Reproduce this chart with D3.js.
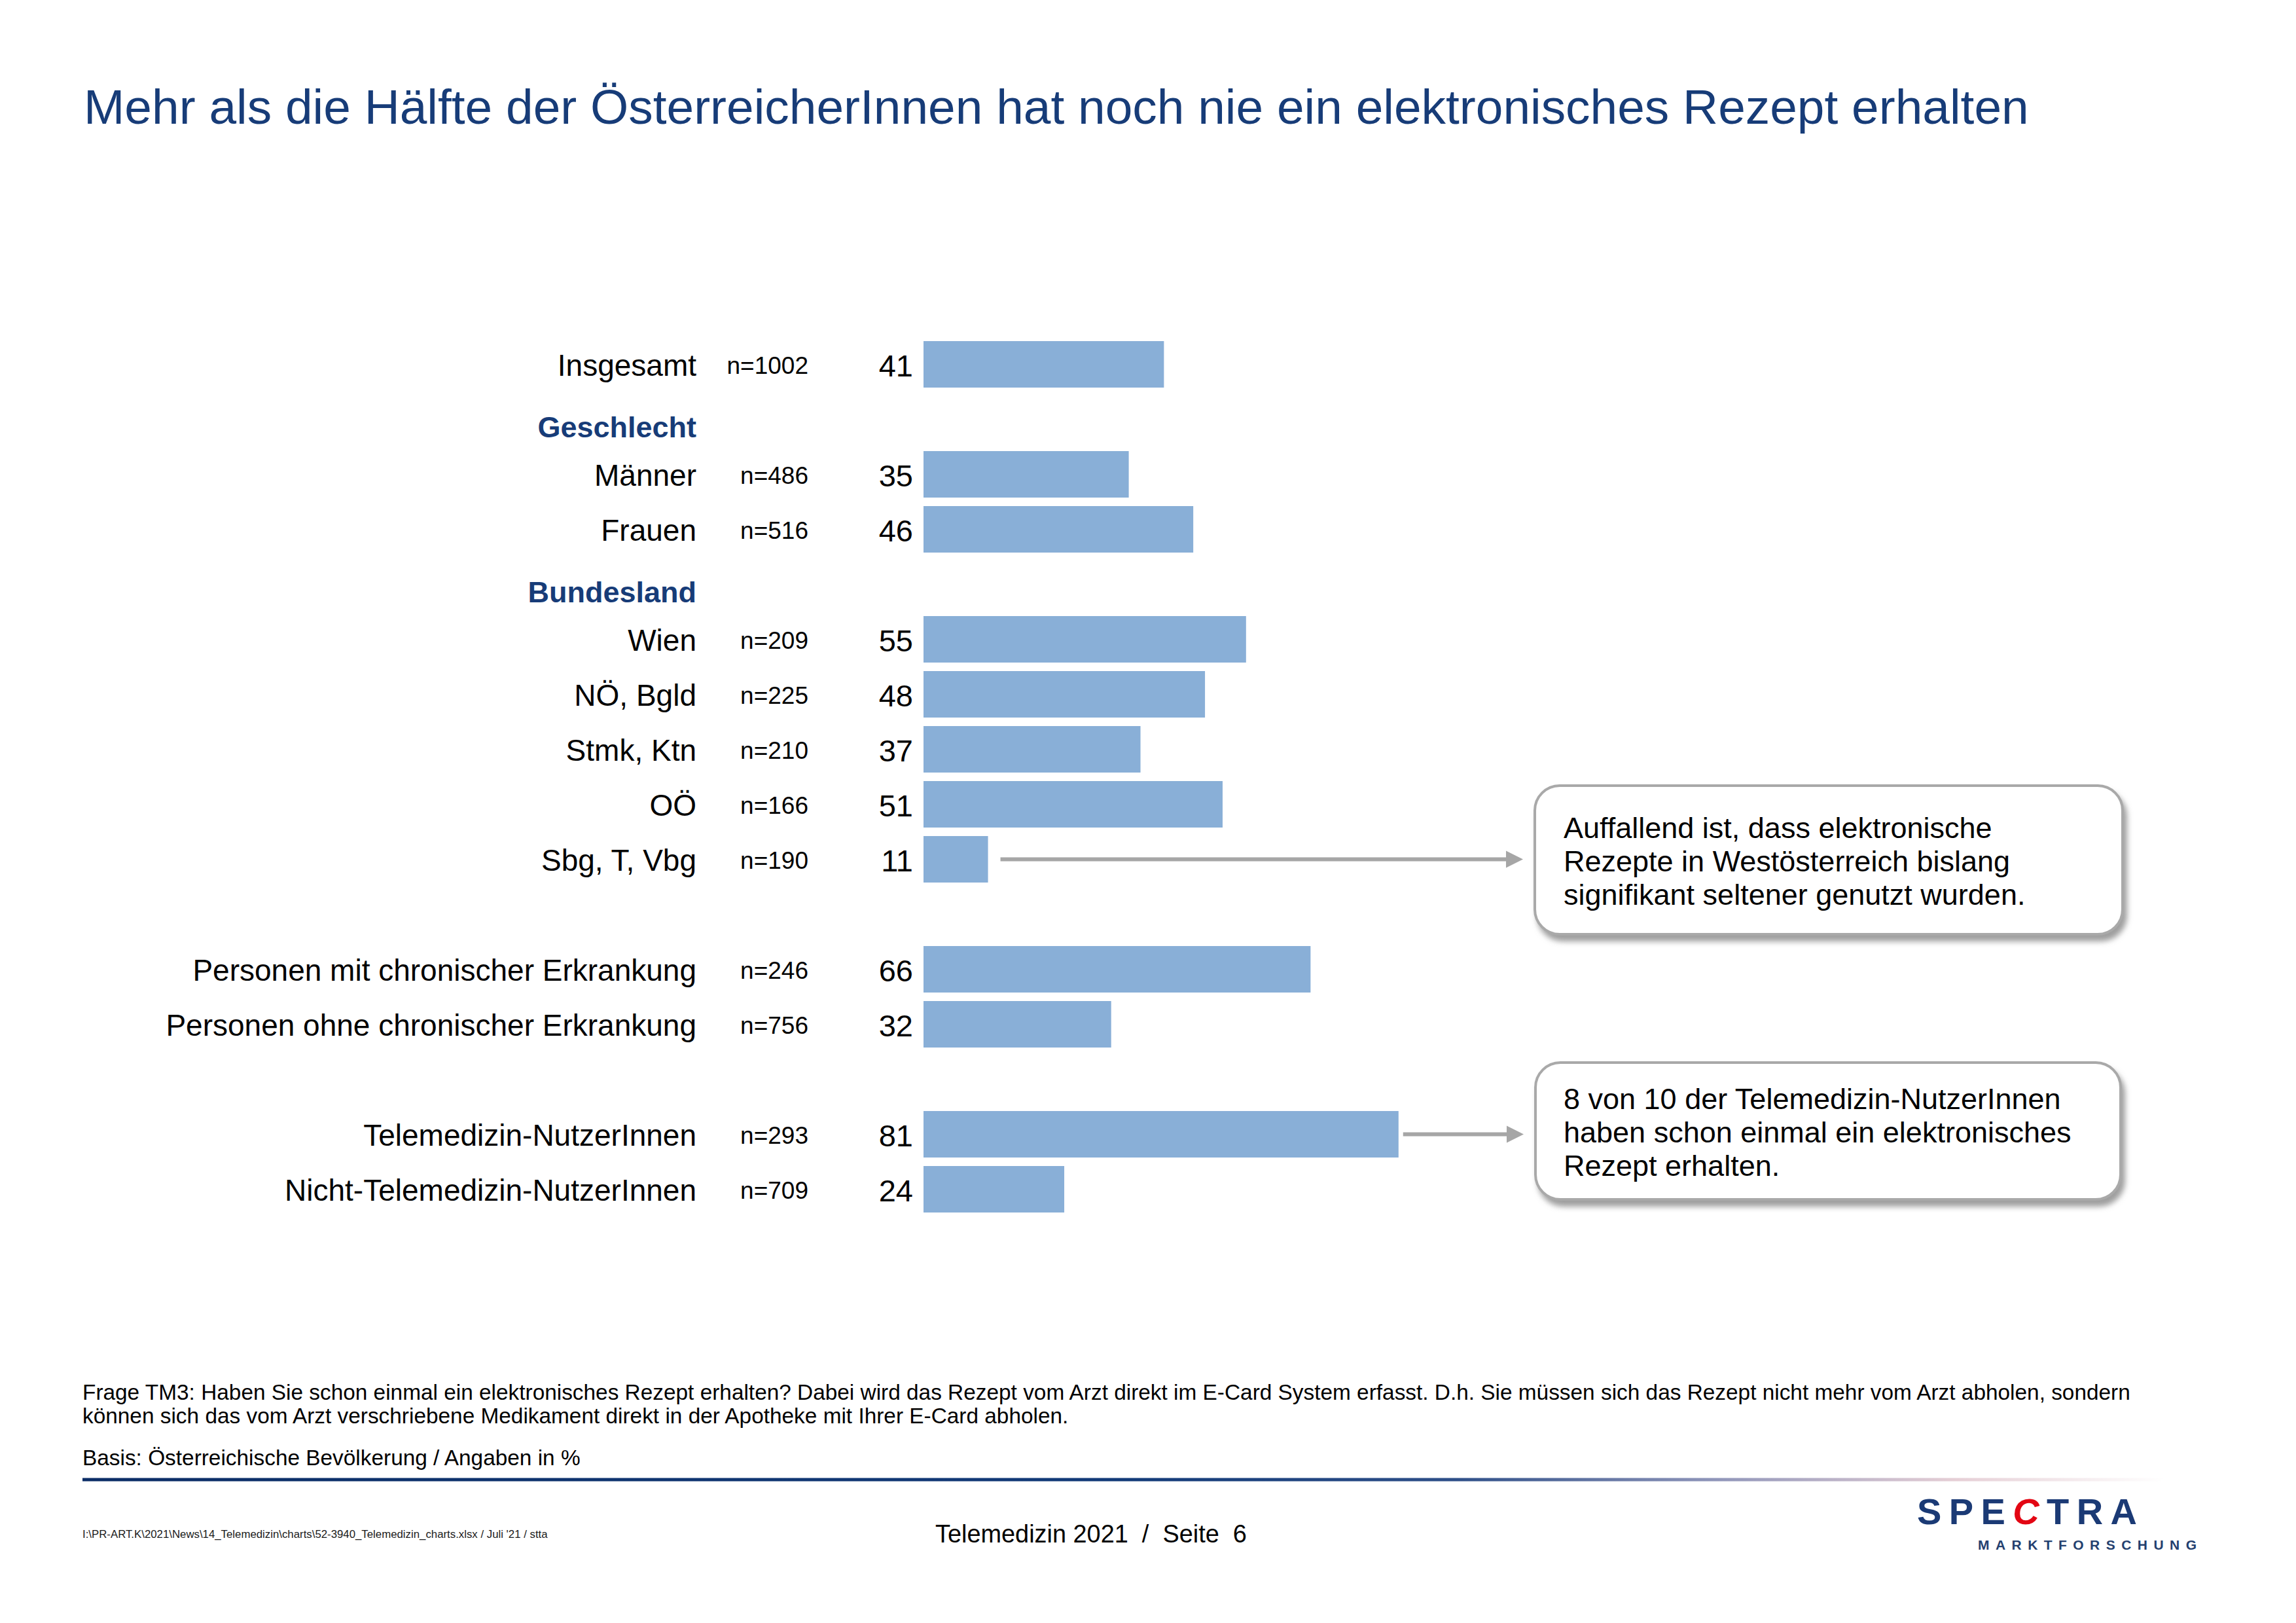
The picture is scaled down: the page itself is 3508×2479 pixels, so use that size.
<!DOCTYPE html>
<html>
<head>
<meta charset="utf-8">
<script src="https://cdn.jsdelivr.net/npm/d3@7"></script>
<style>
  html, body { margin: 0; padding: 0; background: #ffffff; }
  svg { display: block; }
  text { font-family: "Liberation Sans", Arial, Helvetica, sans-serif; }
</style>
</head>
<body>
<script>
// ---------------- DATA ----------------
const titleText = "Mehr als die Hälfte der ÖsterreicherInnen hat noch nie ein elektronisches Rezept erhalten";

const categories = [
  "Insgesamt", "Männer", "Frauen",
  "Wien", "NÖ, Bgld", "Stmk, Ktn", "OÖ", "Sbg, T, Vbg",
  "Personen mit chronischer Erkrankung", "Personen ohne chronischer Erkrankung",
  "Telemedizin-NutzerInnen", "Nicht-Telemedizin-NutzerInnen"
];
const sampleSizes = [
  "n=1002", "n=486", "n=516",
  "n=209", "n=225", "n=210", "n=166", "n=190",
  "n=246", "n=756",
  "n=293", "n=709"
];
const values = [41, 35, 46, 55, 48, 37, 51, 11, 66, 32, 81, 24];

const groupHeaders = ["Geschlecht", "Bundesland"];

// row order (slots) – headers and empty spacer rows included
const rowOrder = [
  "Insgesamt", "Geschlecht", "Männer", "Frauen",
  "Bundesland", "Wien", "NÖ, Bgld", "Stmk, Ktn", "OÖ", "Sbg, T, Vbg",
  "_gap1",
  "Personen mit chronischer Erkrankung", "Personen ohne chronischer Erkrankung",
  "_gap2",
  "Telemedizin-NutzerInnen", "Nicht-Telemedizin-NutzerInnen"
];

const calloutRows = ["Sbg, T, Vbg", "Telemedizin-NutzerInnen"];
const calloutTexts = [
  ["Auffallend ist, dass elektronische", "Rezepte in Westösterreich bislang", "signifikant seltener genutzt wurden."],
  ["8 von 10 der Telemedizin-NutzerInnen", "haben schon einmal ein elektronisches", "Rezept erhalten."]
];

const footnoteLines = [
  "Frage TM3: Haben Sie schon einmal ein elektronisches Rezept erhalten? Dabei wird das Rezept vom Arzt direkt im E-Card System erfasst. D.h. Sie müssen sich das Rezept nicht mehr vom Arzt abholen, sondern",
  "können sich das vom Arzt verschriebene Medikament direkt in der Apotheke mit Ihrer E-Card abholen."
];
const basisText = "Basis: Österreichische Bevölkerung / Angaben in %";
const filePathText = "I:\\PR-ART.K\\2021\\News\\14_Telemedizin\\charts\\52-3940_Telemedizin_charts.xlsx / Juli '21 / stta";
const pageText = "Telemedizin 2021  /  Seite  6";

// ---------------- LAYOUT ----------------
const W = 3508, H = 2479;
const navy = "#173c78";
const barColor = "#89afd7";
const arrowColor = "#a6a6a6";

const svg = d3.select("body").append("svg")
  .attr("width", W).attr("height", H)
  .attr("viewBox", `0 0 ${W} ${H}`);

const defs = svg.append("defs");
const shadow = defs.append("filter").attr("id", "shadow")
  .attr("x", "-10%").attr("y", "-10%").attr("width", "125%").attr("height", "135%");
shadow.append("feDropShadow").attr("dx", 5).attr("dy", 9).attr("stdDeviation", 4)
  .attr("flood-color", "#7f7f7f").attr("flood-opacity", 0.75);

const grad = defs.append("linearGradient").attr("id", "footGrad")
  .attr("x1", "0%").attr("x2", "100%").attr("y1", "0%").attr("y2", "0%");
[[0, "#0b2d66"], [0.5, "#123a78"], [0.66, "#2e4f88"], [0.78, "#8c93b8"], [0.9, "#e6cfd6"], [1, "#ffffff"]]
  .forEach(([o, c]) => grad.append("stop").attr("offset", o).attr("stop-color", c));

function fit(sel, target) {
  const w = sel.node().getComputedTextLength();
  const fs = parseFloat(sel.attr("font-size"));
  sel.attr("font-size", fs * target / w);
  return sel;
}

// Title
fit(svg.append("text")
  .attr("x", 128).attr("y", 189)
  .attr("font-size", 76).attr("fill", navy)
  .text(titleText), 2972);

// Scales
const x = d3.scaleLinear().domain([0, 100]).range([1411, 2307]);
const y = d3.scaleBand().domain(rowOrder).range([514.5, 514.5 + 16 * 84])
  .paddingInner(0.155).paddingOuter(0.0775);

const rows = categories.map((c, i) => ({ cat: c, n: sampleSizes[i], v: values[i] }));

const labelX = 1064, nX = 1235, valX = 1395;
const cy = d => y(d) + y.bandwidth() / 2;

const g = svg.append("g");

// bars
g.selectAll("rect.bar").data(rows).join("rect")
  .attr("class", "bar")
  .attr("x", x(0))
  .attr("y", d => y(d.cat))
  .attr("width", d => x(d.v) - x(0))
  .attr("height", y.bandwidth())
  .attr("fill", barColor);

// category labels
g.selectAll("text.lab").data(rows).join("text")
  .attr("class", "lab")
  .attr("x", labelX).attr("y", d => cy(d.cat) + 17)
  .attr("text-anchor", "end").attr("font-size", 46).attr("fill", "#000")
  .text(d => d.cat);

// n labels
g.selectAll("text.n").data(rows).join("text")
  .attr("class", "n")
  .attr("x", nX).attr("y", d => cy(d.cat) + 14)
  .attr("text-anchor", "end").attr("font-size", 37).attr("fill", "#000")
  .text(d => d.n);

// values
g.selectAll("text.val").data(rows).join("text")
  .attr("class", "val")
  .attr("x", valX).attr("y", d => cy(d.cat) + 18)
  .attr("text-anchor", "end").attr("font-size", 47).attr("fill", "#000")
  .text(d => d.v);

// group headers
g.selectAll("text.hdr").data(groupHeaders).join("text")
  .attr("class", "hdr")
  .attr("x", labelX).attr("y", d => cy(d) + 27)
  .attr("text-anchor", "end").attr("font-size", 45).attr("font-weight", "bold")
  .attr("fill", navy)
  .text(d => d);

// callouts
const boxes = [
  { left: 2345, right: 3243, top: 1200, bottom: 1427, gap: 19 },
  { left: 2346, right: 3240, top: 1623, bottom: 1832, gap: 7 }
];
calloutRows.forEach((rowKey, i) => {
  const b = boxes[i];
  const v = values[categories.indexOf(rowKey)];
  const yy = cy(rowKey);
  const tip = b.left - 18;
  const x1 = x(v) + b.gap;
  g.append("line")
    .attr("x1", x1).attr("x2", tip - 22)
    .attr("y1", yy).attr("y2", yy)
    .attr("stroke", arrowColor).attr("stroke-width", 6);
  g.append("path")
    .attr("d", `M${tip - 26},${yy - 13} L${tip},${yy} L${tip - 26},${yy + 13} Z`)
    .attr("fill", arrowColor);

  g.append("rect")
    .attr("x", b.left).attr("y", b.top)
    .attr("width", b.right - b.left).attr("height", b.bottom - b.top)
    .attr("rx", 38).attr("ry", 38)
    .attr("fill", "#ffffff").attr("stroke", "#a9a9a9").attr("stroke-width", 4)
    .attr("filter", "url(#shadow)");

  const mid = (b.top + b.bottom) / 2;
  const lines = calloutTexts[i];
  lines.forEach((t, k) => {
    g.append("text")
      .attr("x", 2389).attr("y", mid + 17 + (k - (lines.length - 1) / 2) * 51)
      .attr("font-size", 45).attr("fill", "#000")
      .text(t);
  });
});

// Footnotes
const fn1 = fit(svg.append("text").attr("x", 126).attr("y", 2138)
  .attr("font-size", 30).attr("fill", "#000").text(footnoteLines[0]), 3130);
const fnSize = parseFloat(fn1.attr("font-size"));
svg.append("text").attr("x", 126).attr("y", 2174)
  .attr("font-size", fnSize).attr("fill", "#000").text(footnoteLines[1]);
svg.append("text").attr("x", 126).attr("y", 2238)
  .attr("font-size", fnSize).attr("fill", "#000").text(basisText);

// gradient rule
svg.append("rect").attr("x", 126).attr("y", 2257.5).attr("width", 3180).attr("height", 5)
  .attr("fill", "url(#footGrad)");

// file path
fit(svg.append("text").attr("x", 126).attr("y", 2349)
  .attr("font-size", 16).attr("fill", "#1a1a1a").text(filePathText), 711);

// page text
fit(svg.append("text").attr("x", 1429).attr("y", 2356)
  .attr("font-size", 37).attr("fill", "#000").style("white-space", "pre").text(pageText), 476);

// Logo
const logo = svg.append("g");
const sp = logo.append("text").attr("x", 2929).attr("y", 2328)
  .attr("font-size", 56).attr("font-weight", "bold").attr("fill", "#1b3a75")
  .attr("textLength", 336).attr("lengthAdjust", "spacing");
sp.append("tspan").text("SPE");
sp.append("tspan").attr("fill", "#e30613").attr("font-style", "italic").text("C");
sp.append("tspan").text("TRA");
logo.append("text").attr("x", 3022).attr("y", 2367)
  .attr("font-size", 21).attr("font-weight", "bold").attr("fill", "#23406f")
  .attr("textLength", 334).attr("lengthAdjust", "spacing")
  .text("MARKTFORSCHUNG");
</script>
</body>
</html>
